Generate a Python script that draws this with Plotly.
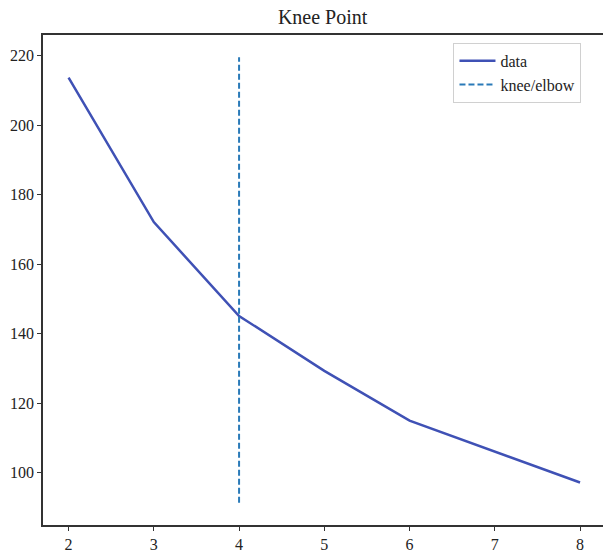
import plotly.graph_objects as go

k_values = [2, 3, 4, 5, 6, 7, 8]
scores = [213.7, 172.1, 145.1, 129.3, 115.0, 106.0, 97.2]
knee_x = 4
x_ticks = [2, 3, 4, 5, 6, 7, 8]
y_ticks = [100, 120, 140, 160, 180, 200, 220]

# vertical knee line spans the data's auto-range (5% margin), as matplotlib would
lo, hi = min(scores), max(scores)
span = hi - lo
v_lo, v_hi = lo - 0.05 * span, hi + 0.05 * span
v_span = v_hi - v_lo
y_range = [v_lo - 0.05 * v_span, v_hi + 0.05 * v_span]

FONT = "Liberation Serif"
AX = "#333333"

fig = go.Figure()
fig.add_trace(go.Scatter(x=k_values, y=scores, mode="lines", name="data",
                         line=dict(color="#3f51b5", width=2.5)))
fig.add_trace(go.Scatter(x=[knee_x, knee_x], y=[v_lo, v_hi], mode="lines",
                         name="knee/elbow",
                         line=dict(color="#2a7ab8", width=2, dash="6px,3px")))

fig.update_layout(
    width=603, height=556,
    margin=dict(l=43, r=0, t=35, b=31),
    paper_bgcolor="white", plot_bgcolor="white",
    font=dict(family=FONT, size=16, color="#222222"),
    title=dict(text="Knee Point", x=0.535, xanchor="center", y=0.969, yanchor="middle",
               font=dict(family=FONT, size=20, color="#222222")),
    showlegend=True,
    legend=dict(x=0.733, y=0.984, xanchor="left", yanchor="top",
                bgcolor="white", bordercolor="#d0d0d0", borderwidth=1,
                font=dict(family=FONT, size=16, color="#222222"),
                itemwidth=36, tracegroupgap=0),
)
fig.update_xaxes(range=[1.7, 1.7 + 559.7 / 85.2], tickvals=x_ticks,
                 showgrid=False, zeroline=False,
                 showline=True, linecolor=AX, linewidth=1.5, mirror=True,
                 ticks="outside", ticklen=4, tickcolor=AX, tickwidth=1.2,
                 tickfont=dict(family=FONT, size=16, color="#222222"))
fig.update_yaxes(range=y_range, tickvals=y_ticks,
                 showgrid=False, zeroline=False,
                 showline=True, linecolor=AX, linewidth=1.5, mirror=False,
                 ticks="outside", ticklen=4, tickcolor=AX, tickwidth=1.2,
                 tickfont=dict(family=FONT, size=16, color="#222222"))

fig.write_html("out.html", config={"displayModeBar": False},
               post_script="document.body.style.margin='0';document.body.style.padding='0';")
